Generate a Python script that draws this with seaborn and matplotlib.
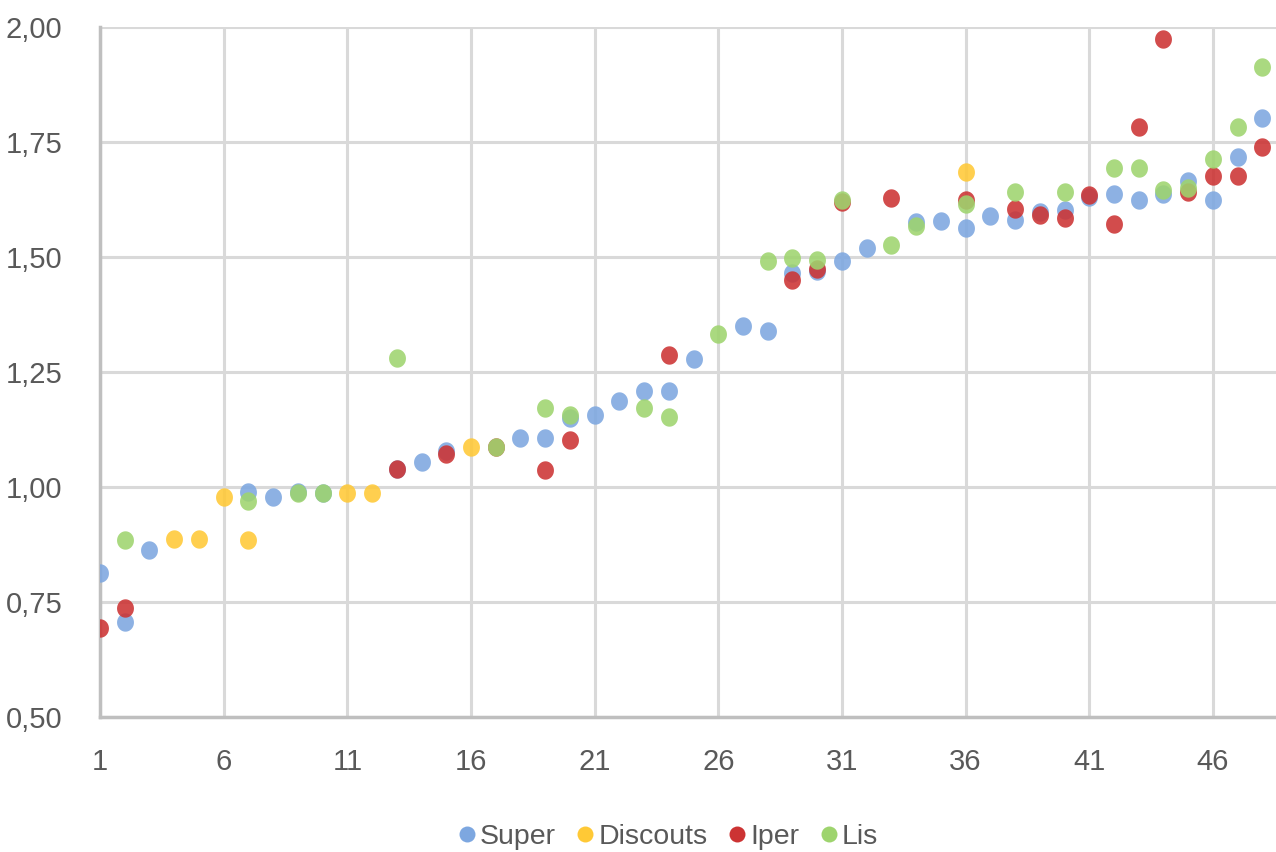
import numpy as np
import pandas as pd
import matplotlib
matplotlib.use("Agg")
import matplotlib.pyplot as plt
from matplotlib.lines import Line2D
from matplotlib.ticker import FuncFormatter
import seaborn as sns

# dati
super_x = [1, 2, 3, 7, 8, 9, 10, 13, 14, 15, 18, 19, 20, 21, 22, 23, 24, 25, 27, 28,
           29, 30, 31, 32, 34, 35, 36, 37, 38, 39, 40, 41, 42, 43, 44, 45, 46, 47, 48]
super_y = [0.814, 0.707, 0.862, 0.990, 0.979, 0.990, 0.988, 1.040, 1.055, 1.078,
           1.106, 1.106, 1.150, 1.157, 1.188, 1.209, 1.209, 1.279, 1.350, 1.339,
           1.466, 1.470, 1.491, 1.519, 1.577, 1.578, 1.562, 1.590, 1.580, 1.598,
           1.602, 1.630, 1.638, 1.625, 1.638, 1.665, 1.625, 1.718, 1.803]

disc_x = [4, 5, 6, 7, 11, 12, 16, 36]
disc_y = [0.888, 0.888, 0.979, 0.885, 0.988, 0.988, 1.086, 1.684]

iper_x = [1, 2, 13, 15, 17, 19, 20, 24, 29, 30, 31, 33, 36, 38, 39, 40, 41, 42,
          43, 44, 45, 46, 47, 48]
iper_y = [0.693, 0.736, 1.040, 1.072, 1.086, 1.038, 1.102, 1.287, 1.451, 1.475,
          1.620, 1.629, 1.624, 1.604, 1.591, 1.585, 1.635, 1.571, 1.783, 1.975,
          1.642, 1.676, 1.676, 1.740]

lis_x = [2, 7, 9, 10, 13, 17, 19, 20, 23, 24, 26, 28, 29, 30, 31, 33, 34, 36, 38,
         40, 42, 43, 44, 45, 46, 47, 48]
lis_y = [0.885, 0.970, 0.986, 0.988, 1.280, 1.086, 1.172, 1.157, 1.172, 1.153,
         1.332, 1.491, 1.497, 1.493, 1.625, 1.526, 1.567, 1.615, 1.642, 1.642,
         1.693, 1.693, 1.646, 1.649, 1.714, 1.783, 1.914]

series = ["Super", "Discouts", "Iper", "Lis"]
colori = ["#7da7e0", "#ffc936", "#cc3333", "#9ed46e"]

xticks = [1, 6, 11, 16, 21, 26, 31, 36, 41, 46]
yticks = [0.50, 0.75, 1.00, 1.25, 1.50, 1.75, 2.00]

df = pd.concat([
    pd.DataFrame({"x": super_x, "y": super_y, "serie": "Super"}),
    pd.DataFrame({"x": disc_x, "y": disc_y, "serie": "Discouts"}),
    pd.DataFrame({"x": iper_x, "y": iper_y, "serie": "Iper"}),
    pd.DataFrame({"x": lis_x, "y": lis_y, "serie": "Lis"}),
], ignore_index=True)

sns.set_style("white")
plt.rcParams['font.family'] = ['Liberation Sans', 'DejaVu Sans']

grigio = "#595959"

fig = plt.figure(figsize=(12.76, 8.52), dpi=100)
ax = fig.add_axes([100/1276, 1 - 717/852, 1 - 100/1276, (717 - 27)/852])

# marker ellittico (un po' piu alto che largo)
t = np.linspace(0, 2*np.pi, 60)
ellisse = list(zip(0.46*np.cos(t), 0.5*np.sin(t)))

for s, c in zip(series, colori):
    sub = df[df["serie"] == s]
    sns.scatterplot(data=sub, x="x", y="y", color=c, marker=ellisse, s=175,
                    linewidth=0, alpha=0.88, ax=ax, legend=False, zorder=3)

ax.set_xlim(1, 48.55)
ax.set_ylim(0.5, 2.0)
ax.set_xticks(xticks)
ax.set_yticks(yticks)
ax.yaxis.set_major_formatter(FuncFormatter(lambda v, p: f"{v:.2f}".replace(".", ",")))
ax.grid(True, color="#d9d9d9", linewidth=2.2, zorder=0)
ax.set_axisbelow(True)
for sp in ["top", "right"]:
    ax.spines[sp].set_visible(False)
for sp in ["left", "bottom"]:
    ax.spines[sp].set_color("#bfbfbf")
    ax.spines[sp].set_linewidth(2.5)
ax.tick_params(axis="both", length=0, labelsize=21, labelcolor=grigio)
ax.tick_params(axis="x", pad=22)
ax.tick_params(axis="y", pad=27)
ax.set_xlabel("")
ax.set_ylabel("")

handles = [Line2D([], [], marker="o", linestyle="", color=c, markersize=11.5,
                  markeredgewidth=0, label=s) for s, c in zip(series, colori)]
fig.legend(handles=handles, loc="center", bbox_to_anchor=(668/1276, 0.018),
           ncol=4, frameon=False, fontsize=20.5, labelcolor=grigio,
           handletextpad=0.15, columnspacing=0.75, handlelength=0.6)

fig.savefig("out.png", dpi=100)
